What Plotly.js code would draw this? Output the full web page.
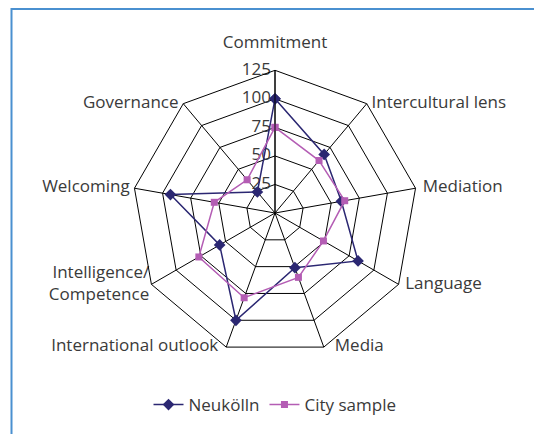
<!DOCTYPE html>
<html>
<head>
<meta charset="utf-8">
<script src="https://cdn.plot.ly/plotly-3.0.1.min.js"></script>
<style>
  body { margin: 0; background: #fff; }
  #graph { width: 534px; height: 434px; }
</style>
</head>
<body>
<div id="graph"></div>
<script>
const categories = ['Commitment', 'Intercultural lens', 'Mediation', 'Language', 'Media',
  'International outlook', 'Intelligence/<br>Competence', 'Welcoming', 'Governance']
const neukoelln = [100, 67, 59, 84, 51, 100, 56, 93, 24]
const citySample = [75, 60, 62, 49, 60, 79, 77, 54, 38]
const radialTicks = [0, 25, 50, 75, 100, 125]
const radialMax = 125

// where each category label sits around its vertex, and how far off (via invisible marker size)
const labelPos = ['top center', 'middle right', 'middle right', 'middle right', 'middle right',
  'middle left', 'middle left', 'middle left', 'middle left']
const labelGap = [28, 6, 10, 9, 16, 11, 2, 6, 6]

const textColor = '#3a3a3a'
const fontSize = 17

// close the loop so the last point joins the first
const closed = arr => arr.concat([arr[0]])

const categoryLabels = {
  type: 'scatterpolar',
  r: categories.map(() => radialMax),
  theta: categories,
  mode: 'markers+text',
  text: categories,
  textposition: labelPos,
  textfont: {size: fontSize, color: textColor},
  marker: {size: labelGap, opacity: 0},
  cliponaxis: false,
  hoverinfo: 'skip',
  showlegend: false
}

const radialLabels = {
  type: 'scatterpolar',
  r: radialTicks,
  theta: radialTicks.map(() => categories[0]),
  mode: 'markers+text',
  text: radialTicks.map(String),
  textposition: 'middle left',
  textfont: {size: fontSize, color: textColor},
  marker: {size: 5, opacity: 0},
  cliponaxis: false,
  hoverinfo: 'skip',
  showlegend: false
}

const trace1 = {
  type: 'scatterpolar',
  name: 'Neukölln',
  r: closed(neukoelln),
  theta: closed(categories),
  mode: 'lines+markers',
  line: {color: '#2b2772', width: 1.5},
  marker: {symbol: 'diamond', size: 9, color: '#2b2772'}
}

const trace2 = {
  type: 'scatterpolar',
  name: 'City sample',
  r: closed(citySample),
  theta: closed(categories),
  mode: 'lines+markers',
  line: {color: '#b45db4', width: 1.5},
  marker: {symbol: 'square', size: 7, color: '#b45db4'}
}

const W = 534, H = 434
const cx = 275, cy = 213, rad = 142.7

const layout = {
  width: W,
  height: H,
  margin: {t: 0, l: 0, r: 0, b: 0},
  paper_bgcolor: '#fff',
  font: {family: 'Open Sans, sans-serif', size: fontSize, color: textColor},
  showlegend: true,
  legend: {
    orientation: 'h',
    x: 0.515, xanchor: 'center',
    y: 1 - 405 / H, yanchor: 'middle',
    itemwidth: 30,
    font: {size: fontSize, color: textColor}
  },
  polar: {
    domain: {
      x: [(cx - rad) / W, (cx + rad) / W],
      y: [1 - (cy + rad) / H, 1 - (cy - rad) / H]
    },
    bgcolor: '#fff',
    gridshape: 'linear',
    radialaxis: {
      range: [0, radialMax],
      tickvals: radialTicks,
      angle: 90,
      showline: true,
      linecolor: '#000',
      linewidth: 1,
      gridcolor: '#000',
      gridwidth: 1,
      ticks: '',
      showticklabels: false
    },
    angularaxis: {
      rotation: 90,
      direction: 'clockwise',
      showline: true,
      linecolor: '#000',
      linewidth: 1,
      gridcolor: '#000',
      gridwidth: 1,
      ticks: '',
      showticklabels: false
    }
  },
  shapes: [{
    type: 'rect', xref: 'paper', yref: 'paper',
    x0: 11.5 / W, x1: 1.2, y0: 1 - 9 / H, y1: -0.2,
    line: {color: '#4a90d0', width: 2}
  }]
}

const config = {displayModeBar: false, responsive: false}

Plotly.newPlot('graph', [categoryLabels, radialLabels, trace1, trace2], layout, config)
</script>
</body>
</html>
